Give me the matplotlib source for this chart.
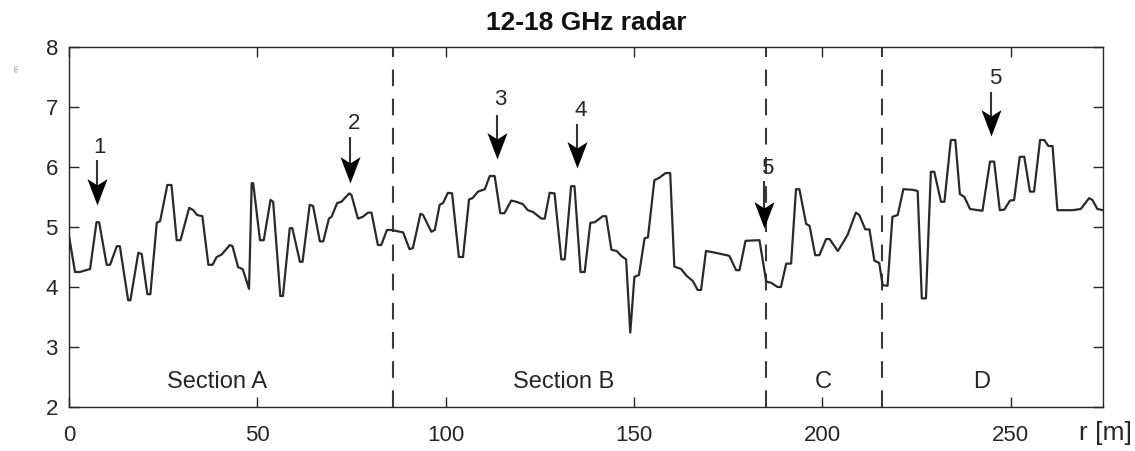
import matplotlib
matplotlib.use("Agg")
import matplotlib.pyplot as plt
from matplotlib.path import Path

plt.rcParams['font.family'] = ['Liberation Sans', 'DejaVu Sans']

# ---- data ----
r_m = [0.0, 1.6, 2.9, 5.6, 7.3, 8.0, 10.0, 10.9, 12.7, 13.5, 15.7, 16.3, 18.4, 19.3,
       20.8, 21.6, 23.3, 24.2, 26.1, 27.2, 28.6, 29.6, 31.9, 33.0, 34.0, 35.4, 37.0,
       38.1, 39.2, 40.5, 42.7, 43.4, 44.9, 46.1, 47.8, 48.5, 48.9, 50.7, 51.7, 53.5,
       54.2, 56.1, 56.8, 58.6, 59.3, 61.3, 62.0, 63.9, 64.8, 66.6, 67.5, 69.0, 69.7,
       71.2, 72.3, 74.4, 75.0, 76.7, 78.0, 79.4, 80.3, 82.0, 82.9, 84.4, 85.6, 88.7,
       90.4, 91.3, 93.3, 94.0, 96.2, 97.1, 98.4, 99.3, 100.6, 101.7, 103.5, 104.6,
       106.2, 107.1, 108.6, 110.4, 111.7, 113.0, 114.5, 115.6, 117.4, 118.8, 120.5,
       121.8, 123.2, 125.4, 126.3, 127.6, 128.9, 130.7, 131.6, 133.3, 134.2, 135.8,
       136.9, 138.4, 139.6, 141.7, 142.6, 144.0, 145.4, 146.6, 147.9, 149.0, 150.1,
       151.3, 152.8, 153.7, 155.4, 156.7, 158.4, 159.6, 160.7, 162.5, 163.9, 165.6,
       166.9, 167.8, 169.1, 170.9, 175.3, 177.1, 178.0, 179.6, 183.3, 185.1, 186.4,
       188.1, 189.0, 190.4, 191.7, 193.0, 193.9, 195.7, 196.6, 198.1, 199.2, 201.0,
       201.9, 204.1, 205.4, 206.7, 208.9, 209.8, 211.4, 212.5, 213.8, 215.1, 216.0,
       217.3, 218.6, 220.0, 221.5, 224.0, 225.3, 226.4, 227.5, 228.8, 229.7, 231.5,
       232.4, 234.1, 235.3, 236.5, 237.7, 239.2, 242.5, 244.5, 245.6, 247.1, 248.3,
       249.8, 250.9, 252.4, 253.6, 255.1, 256.2, 257.8, 258.9, 260.0, 261.1, 262.4,
       266.4, 268.6, 270.8, 271.7, 273.0, 274.5]
signal = [4.85, 4.25, 4.25, 4.30, 5.08, 5.08, 4.37, 4.37, 4.68, 4.68, 3.78, 3.78, 4.57, 4.55,
          3.88, 3.88, 5.07, 5.10, 5.70, 5.70, 4.78, 4.78, 5.32, 5.28, 5.20, 5.18, 4.37,
          4.37, 4.50, 4.54, 4.70, 4.68, 4.33, 4.30, 3.97, 5.73, 5.73, 4.78, 4.78, 5.45,
          5.42, 3.85, 3.85, 4.98, 4.98, 4.42, 4.42, 5.37, 5.35, 4.76, 4.76, 5.14, 5.17,
          5.40, 5.42, 5.56, 5.53, 5.14, 5.17, 5.24, 5.24, 4.70, 4.70, 4.95, 4.95, 4.91,
          4.63, 4.65, 5.22, 5.20, 4.92, 4.95, 5.37, 5.40, 5.57, 5.56, 4.50, 4.50,
          5.46, 5.48, 5.59, 5.63, 5.85, 5.85, 5.23, 5.23, 5.44, 5.42, 5.38,
          5.28, 5.25, 5.14, 5.14, 5.57, 5.56, 4.46, 4.46, 5.68, 5.68, 4.25,
          4.25, 5.07, 5.08, 5.18, 5.18, 4.62, 4.60, 4.52, 4.46, 3.24, 4.17,
          4.20, 4.81, 4.83, 5.78, 5.82, 5.90, 5.90, 4.34, 4.30, 4.19, 4.10,
          3.95, 3.95, 4.60, 4.58, 4.52, 4.28, 4.28, 4.77, 4.78, 4.09, 4.07,
          4.00, 4.00, 4.39, 4.39, 5.63, 5.63, 5.05, 5.02, 4.53, 4.53, 4.80,
          4.80, 4.60, 4.73, 4.87, 5.24, 5.20, 4.96, 4.96, 4.44, 4.40, 4.03,
          4.02, 5.17, 5.20, 5.63, 5.62, 5.60, 3.81, 3.81, 5.92, 5.92, 5.42,
          5.42, 6.45, 6.45, 5.55, 5.50, 5.30, 5.27, 6.09, 6.09, 5.28, 5.29,
          5.44, 5.45, 6.17, 6.17, 5.59, 5.59, 6.45, 6.45, 6.35, 6.35, 5.28,
          5.28, 5.30, 5.48, 5.45, 5.30, 5.28]

section_bounds = [86.0, 185.1, 215.9]
section_labels = ["Section A", "Section B", "C", "D"]
section_label_x = [39.2, 131.3, 200.3, 242.3]

marker_labels = ["1", "2", "3", "4", "5", "5"]
marker_x = [7.35, 74.6, 113.6, 134.8, 184.4, 244.7]
marker_y_start = [6.12, 6.50, 6.87, 6.72, 5.76, 7.25]
marker_y_end = [5.37, 5.73, 6.13, 5.98, 4.98, 6.52]
marker_text_x = [8.2, 75.7, 114.6, 135.8, 185.3, 245.9]
marker_text_y = [6.33, 6.72, 7.12, 6.95, 5.98, 7.48]

x_ticks = [0, 50, 100, 150, 200, 250]
y_ticks = [2, 3, 4, 5, 6, 7, 8]

# ---- figure ----
W, H = 1135, 451
fig = plt.figure(figsize=(W / 100, H / 100), dpi=100)
ax = fig.add_axes([69 / W, 1 - 407 / H, (1103 - 69) / W, (407 - 47) / H])

ink = '#262626'
ax.plot(r_m, signal, color='#2a2a2a', lw=1.6, zorder=3,
        solid_joinstyle='round')

for xb in section_bounds:
    ax.axvline(xb, color='#3a3a3a', lw=1.5, linestyle=(0, (8, 6)), zorder=2)

for lab, xl in zip(section_labels, section_label_x):
    ax.text(xl, 2.42, lab, ha='center', va='center', fontsize=17, color=ink)

# notched arrow head (tip at origin, pointing down)
head = Path([(0, 0), (-0.38, 1.0), (0, 0.76), (0.38, 1.0), (0, 0)],
            [Path.MOVETO, Path.LINETO, Path.LINETO, Path.LINETO, Path.CLOSEPOLY])

for lab, xa, y0, y1, tx, ty in zip(marker_labels, marker_x, marker_y_start,
                                    marker_y_end, marker_text_x, marker_text_y):
    ax.plot([xa, xa], [y0, y1 + 0.2], color='#333333', lw=1.5, zorder=5,
            solid_capstyle='butt')
    ax.plot([xa], [y1], marker=head, markersize=38, color='black',
            markeredgewidth=0, zorder=6)
    ax.text(tx, ty, lab, ha='center', va='center', fontsize=16, color=ink, zorder=7)

ax.set_xlim(0, 274.5)
ax.set_ylim(2, 8)
ax.set_xticks(x_ticks)
ax.set_yticks(y_ticks)
ax.tick_params(direction='in', length=7, width=1, colors=ink, labelsize=16,
               top=True, right=True)
ax.tick_params(axis='x', pad=13)
ax.tick_params(axis='y', pad=8)
for s in ax.spines.values():
    s.set_color(ink)
    s.set_linewidth(1.0)

fig.text(586 / W, 1 - 23 / H, "12-18 GHz radar", ha='center', va='center',
         fontsize=19, fontweight='bold', color='#111111')
fig.text(1132 / W, 1 - 433 / H, "r [m]", ha='right', va='center',
         fontsize=19, color=ink)
fig.text(17 / W, 1 - 68 / H, "m", ha='center', va='center', rotation=90,
         fontsize=6, color='#999999')

fig.savefig("out.png", dpi=100)
